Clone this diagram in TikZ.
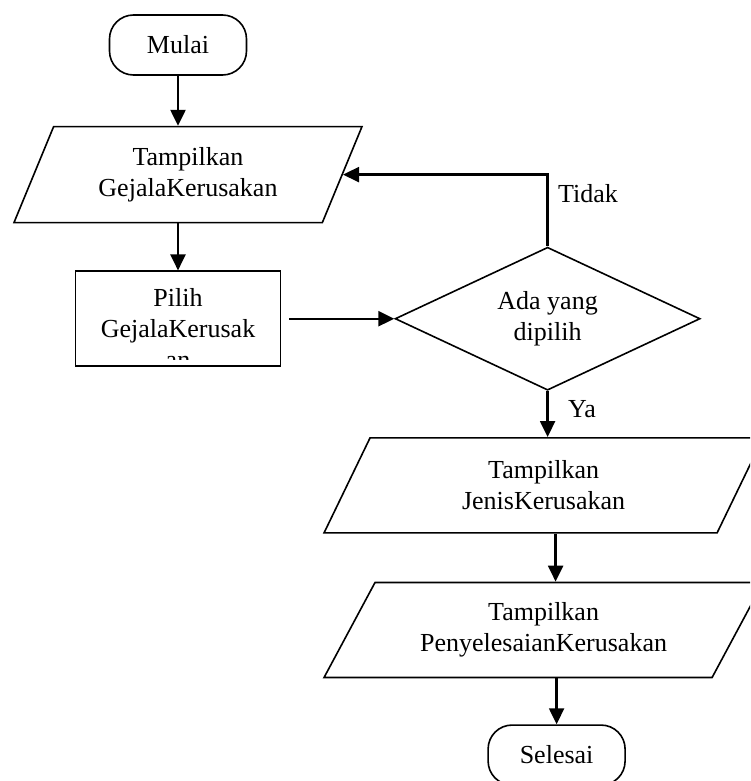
\documentclass[tikz,border=0pt]{standalone}
\usepackage{fontspec}
\setmainfont{Liberation Serif}
\usetikzlibrary{arrows.meta,positioning,shapes.geometric}

\begin{document}
\begin{tikzpicture}[>={Triangle[length=16pt,width=15pt]},
    font=\fontsize{26}{31}\selectfont,
    term/.style={draw,line width=1.6pt,rectangle,rounded corners=24pt,minimum width=137pt,minimum height=60pt,inner sep=0pt},
    io/.style={draw,line width=1.6pt,trapezium,trapezium stretches body,align=center,inner sep=0pt},
    proc/.style={draw,line width=1.6pt,rectangle,minimum width=205pt,minimum height=95pt,inner sep=0pt},
    dec/.style={draw,line width=1.6pt,diamond,aspect=2.13,minimum width=305pt,minimum height=143pt,inner sep=0pt,align=center},
    flow/.style={->,line width=2.4pt}]
    \clip (0,0) rectangle (750pt,-781pt);
    \node[term] (mulai) at (178pt,-45pt) {Mulai};
    \node[io,below=50pt of mulai,xshift=10pt,trapezium left angle=54,trapezium right angle=126,
          minimum width=348pt,minimum height=96pt] (io1) {Tampilkan\\GejalaKerusakan};
    % text of this box runs past its lower edge and is cut off
    \node[proc,below=47pt of io1,xshift=-10pt,
          path picture={\clip ([yshift=7pt]path picture bounding box.south west) rectangle (path picture bounding box.north east);
            \node[anchor=north,align=center,inner sep=0pt,yshift=-9pt]
            (pilihtxt) at (path picture bounding box.north) {Pilih\\GejalaKerusak\\an};}] (pilih) {};
    \node[dec,right=113pt of pilih] (cek) {Ada yang\\dipilih};
    \node[io,below=46pt of cek,xshift=-4pt,trapezium left angle=47,trapezium right angle=133,
          minimum width=439pt,minimum height=95pt] (io2) {Tampilkan\\JenisKerusakan};
    \node[io,below=48pt of io2,trapezium left angle=47,trapezium right angle=133,
          minimum width=439pt,minimum height=95pt] (io3) {Tampilkan\\PenyelesaianKerusakan};
    \node[term,below=46pt of io3,xshift=13pt] (selesai) {Selesai};

    \draw[flow] (mulai) -- (mulai |- io1.north);
    \draw[flow] (io1.south -| pilih) -- (pilih);
    \draw[flow,shorten <=8pt] (pilih) -- (cek);
    \draw[flow] (cek.north) |- node[pos=0.37,right,xshift=6pt] (tidak) {Tidak} (io1.east);
    \draw[flow] (cek.south) -- (io2.north -| cek.south) node[midway,right,xshift=16pt,yshift=5pt] (ya) {Ya};
    \draw[flow] ([xshift=12pt]io2.south) -- ([xshift=12pt]io3.north);
    \draw[flow] ([xshift=13pt]io3.south) -- (selesai);
\end{tikzpicture}
\end{document}
